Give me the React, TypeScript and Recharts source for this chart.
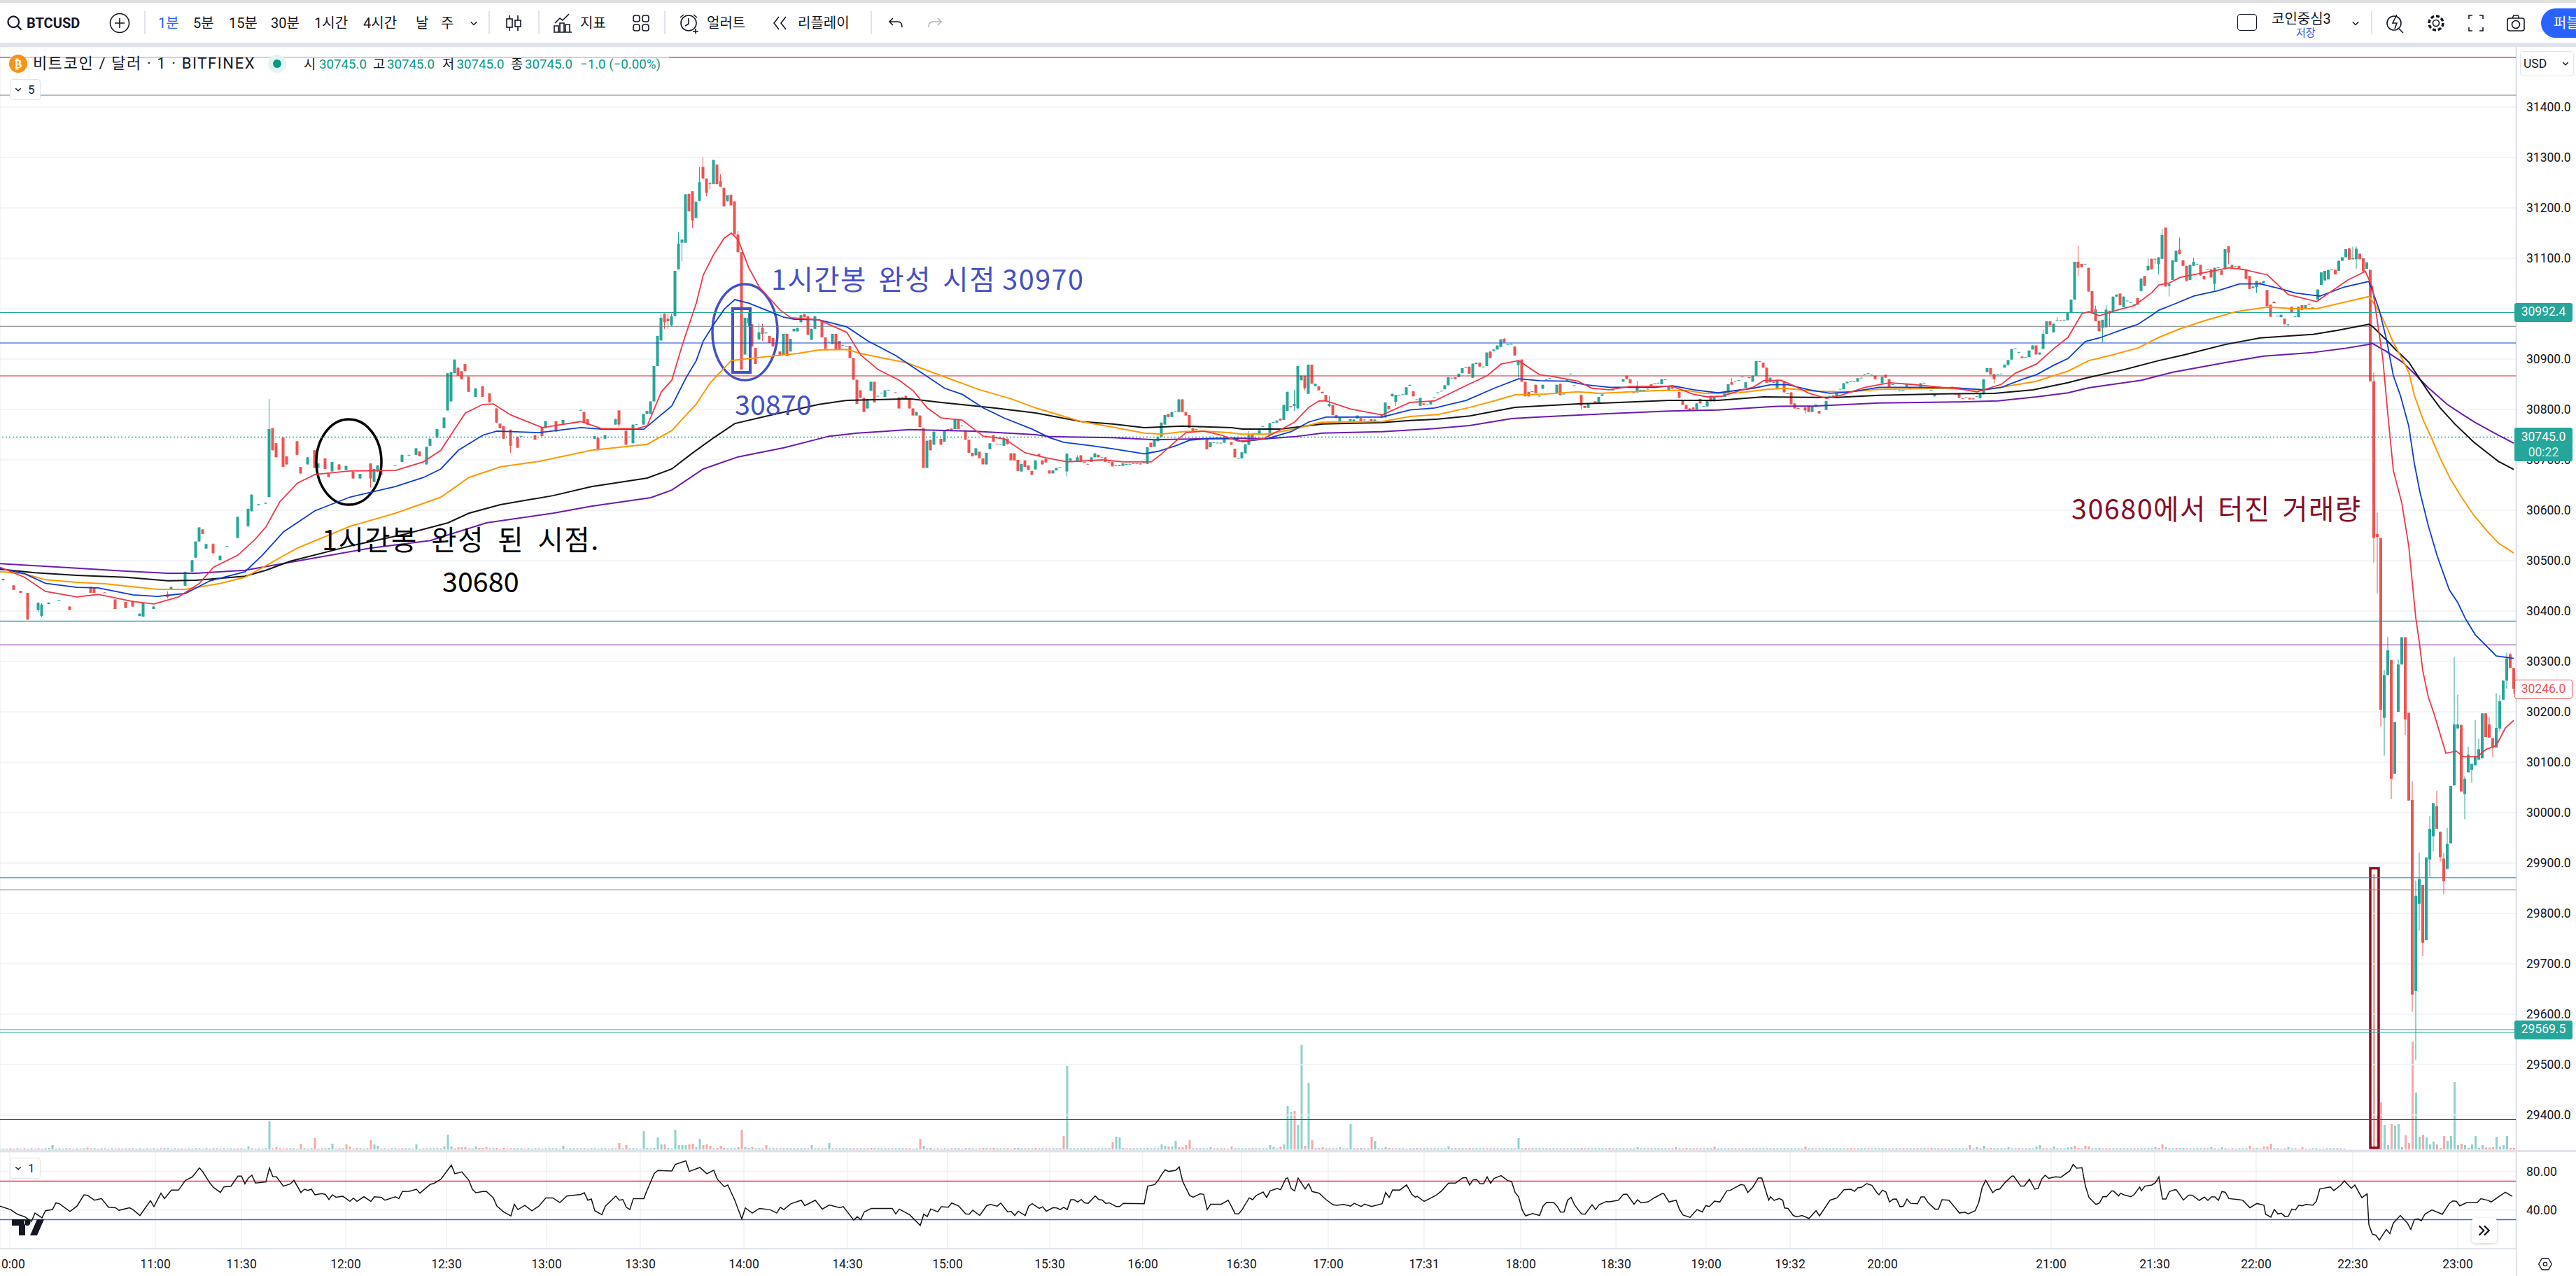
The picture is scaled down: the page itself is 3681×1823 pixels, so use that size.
import React from "react";
import { ComposedChart, Bar, Line, XAxis, YAxis, CartesianGrid, ReferenceLine, ReferenceArea } from "recharts";

const W = 3681, PLOT_TOP = 67, PLOT_BOTTOM = 1643, AXIS_W = 86;
const SLOTS: [number, number] = [0, 719];
const PRICE_DOMAIN: [number, number] = [29330.6, 31519.4];
const GREEN = "#26a69a", RED = "#ef5350";
const FONT = "Roboto, 'Noto Sans CJK KR', sans-serif";
const KR = "'Noto Sans CJK KR', sans-serif";

const PRICE_TICKS = [31400, 31300, 31200, 31100, 31000, 30900, 30800, 30700, 30600, 30500, 30400, 30300, 30200, 30100, 30000, 29900, 29800, 29700, 29600, 29500, 29400];
const RSI_TICKS = [40, 80];
const TIME_SLOTS = [2.8, 44.4, 69, 98.8, 127.6, 156.2, 183, 212.6, 242.2, 270.8, 300, 326.6, 354.8, 379.6, 407, 434.6, 461.8, 487.6, 511.6, 538, 586.2, 615.8, 644.8, 672.4, 702.4];
const TIME_LABELS = ["10:00", "11:00", "11:30", "12:00", "12:30", "13:00", "13:30", "14:00", "14:30", "15:00", "15:30", "16:00", "16:30", "17:00", "17:31", "18:00", "18:30", "19:00", "19:32", "20:00", "21:00", "21:30", "22:00", "22:30", "23:00"];

const LEVELS: [number, string][] = [[31498.6, "#880e4f"], [31423.6, "#787b86"], [30992.4, "#26a69a"], [30965, "#787b86"], [30932, "#0d47c8"], [30866.7, "#c62828"], [30380, "#2196c8"], [30333, "#8e24aa"], [29871, "#2196c8"], [29847, "#787b86"], [29569.5, "#26a69a"], [29564, "#26a69a"], [29391, "#b71c1c"]];
const LAST_PRICE = 30745;

// slot, open, close, high?, low?
const CANDLES: number[][] = [
[1,30461,30464],[4,30451,30442],[6,30440,30436],[8,30436,30383],[11,30402,30416,30418,30398],[12,30390,30413,30416,30388],[14,30414,30417],[17,30421,30422],[20,30409,30402],[26,30448,30436],[27,30446,30436],[30,30437,30436],[33,30423,30404],[36,30418,30406],[38,30420,30409],[40,30390,30395],[41,30389,30416],[44,30404,30409],[48,30433,30428,30439,30425],[49,30444,30448],[53,30450,30478],[55,30478,30501],[56,30506,30538],[57,30538,30566],[58,30562,30553],[59,30524,30533],[61,30533,30515,30535,30512],[63,30501,30510],[65,30528,30529],[68,30545,30587],[71,30568,30603],[72,30598,30631],[74,30610,30612],[76,30613,30615],[77,30626,30761,30821,30626],[78,30763,30719],[79,30733,30705],[81,30744,30686],[82,30707,30691],[85,30737,30710],[86,30686,30673],[88,30691,30705],[90,30719,30684],[91,30684,30693],[93,30703,30682],[94,30675,30666],[95,30677,30696],[97,30691,30680],[99,30680,30688],[101,30677,30663],[103,30663,30672],[106,30693,30663,30693,30645],[107,30656,30682],[108,30677,30689],[109,30679,30670],[113,30688,30689],[115,30696,30710],[117,30709,30710],[119,30710,30723],[120,30717,30707],[122,30691,30726],[123,30728,30742],[125,30744,30761],[127,30763,30784],[128,30798,30872],[129,30816,30874],[130,30872,30899],[131,30883,30867],[132,30876,30860],[133,30890,30876],[134,30865,30835],[136,30825,30842],[138,30846,30825],[140,30832,30814],[142,30802,30774],[143,30772,30763],[144,30767,30742],[146,30760,30728,30760,30714],[148,30746,30724],[149,30746,30747],[153,30749,30740],[155,30765,30747],[156,30763,30777],[159,30777,30756],[161,30772,30779],[166,30798,30799],[167,30795,30774],[168,30781,30770],[170,30742,30747],[171,30744,30719],[173,30742,30749],[176,30770,30781],[177,30798,30770,30798,30765],[179,30758,30730],[181,30733,30770],[182,30770,30771],[184,30770,30791],[185,30791,30797],[186,30791,30816],[187,30816,30886],[188,30886,30946],
[189,30937,30982,30990],[190,30990,30973,30991,30960],[191,30980,30975,30990,30960],[192,30967,30985,30990,30965],[193,30985,31075],[194,31078,31129,31152],[195,31131,31137,31137,31094],[196,31131,31227],[197,31228,31193],[198,31233,31175,31233,31160],[199,31180,31212],[200,31214,31251,31281],[201,31281,31258,31300],[202,31258,31230,31258,31223],[203,31249,31247,31252,31237],[204,31247,31295],[205,31286,31247],[206,31253,31242,31267],[207,31240,31203],[208,31213,31225],[209,31226,31205],[210,31213,31147],[211,31147,31112,31154],[212,31112,30879],[213,30909,30982],[214,30971,30982,30994,30965],[215,30969,30925],[216,30922,30890],[217,30939,30953,30971,30938],[218,30962,30950,30970,30936],[219,30951,30953],[220,30946,30932],[221,30942,30925],[223,30915,30908],[224,30908,30950],[225,30950,30906],[226,30915,30940],[227,30955,30960],[228,30955,30962],[229,30973,30987],[230,30990,30983],[231,30985,30948],[232,30938,30960],[233,30960,30985],[234,30979,30976],[235,30976,30943],[236,30943,30920],[237,30933,30934],[238,30930,30950],[239,30950,30918],[240,30936,30918],[241,30927,30928],[242,30925,30926],[243,30926,30902],[244,30902,30859],[245,30859,30811],[246,30838,30823],[247,30823,30795],[248,30802,30821],[249,30837,30855],[250,30855,30814],[251,30826,30827],[252,30832,30833],[253,30825,30838],[254,30838,30839],[256,30834,30833],[257,30824,30802],[258,30820,30824],[259,30827,30820],[260,30822,30802],[261,30802,30788],[262,30788,30795],[263,30788,30765],[264,30763,30684],[265,30684,30738],[266,30740,30719],[267,30730,30756],[269,30742,30730],[270,30736,30758],[271,30760,30761],[272,30762,30757],[273,30761,30781],[274,30780,30761],[275,30767,30768],[276,30758,30740],[277,30740,30714],[278,30714,30707],[279,30709,30723],[280,30716,30703],[281,30703,30691],[282,30691,30714],[283,30721,30733],[284,30749,30736],[285,30732,30731],[286,30731,30732],[287,30728,30742],[288,30742,30731],[289,30713,30699],[290,30713,30699],[291,30700,30678],[292,30677,30692],[293,30699,30686],[294,30689,30680],[295,30678,30670],[296,30681,30699],[297,30712,30707],[298,30699,30691],[299,30702,30695],[300,30679,30673],[301,30673,30679],[302,30679,30684],[303,30684,30685],[305,30677,30712,30714,30667],
[306,30698,30703],[308,30698,30705,30709],[309,30709,30696],[310,30696,30695],[311,30692,30691],[312,30696,30705],[313,30705,30713],[314,30710,30705],[315,30704,30705],[316,30705,30696],[317,30696,30695],[318,30696,30687],[319,30688,30689],[320,30688,30690],[321,30688,30693],[322,30690,30692],[323,30691,30692],[324,30692,30693],[325,30692,30693],[326,30693,30691],[327,30694,30695],[328,30692,30725],[329,30734,30725],[330,30726,30739],[331,30737,30746],[332,30746,30774],[333,30770,30789],[334,30791,30785],[335,30785,30795],[336,30795,30796],[337,30795,30820],[338,30820,30795],[339,30795,30788],[340,30789,30763],[341,30763,30757],[342,30760,30761],[343,30765,30766],[345,30742,30721],[346,30725,30735],[347,30734,30735],[348,30733,30734],[349,30733,30734],[350,30734,30742],[352,30735,30730],[353,30722,30705],[354,30703,30704],[355,30703,30715],[356,30713,30731],[357,30730,30749,30757],[358,30752,30738],[359,30752,30753],[360,30751,30759],[361,30766,30767],[362,30751,30752],[363,30749,30773],[364,30774,30775],[365,30774,30778],[366,30782,30778],[367,30779,30809],[368,30797,30835],[369,30807,30805],[370,30807,30811,30839,30797],[371,30802,30886],[372,30858,30867],[373,30867,30842,30867,30838],[374,30831,30889],[375,30889,30851],[376,30846,30851],[377,30846,30838],[378,30835,30832],[379,30829,30817],[380,30807,30811,30827,30804],[381,30809,30789],[382,30789,30783],[383,30777,30786],[384,30783,30785],[385,30784,30785],[386,30777,30781],[387,30777,30780],[388,30782,30788],[389,30783,30777],[390,30779,30780],[391,30785,30786],[392,30781,30777],[393,30777,30780],[394,30776,30777],[395,30789,30784],[396,30784,30814],[397,30807,30801],[398,30826,30831],[399,30815,30829,30829,30807],[400,30828,30829],[401,30829,30830],[402,30829,30844],[403,30847,30849],[404,30836,30826],[405,30819,30820],[406,30807,30823],[407,30812,30809],[408,30809,30810],[409,30810,30816],[410,30823,30824],[411,30833,30834],[412,30836,30837],[413,30840,30848],[414,30848,30864],[415,30862,30863],[416,30864,30860],[417,30864,30871],[418,30872,30882],[419,30883,30884],[420,30885,30871],[421,30863,30891],[422,30890,30893],[423,30893,30885],[424,30884,30885],[425,30886,30913],[426,30915,30902],[427,30916,30919],[428,30919,30927],[429,30924,30939],[430,30940,30933,30942],[431,30928,30929],[432,30929,30930],[433,30925,30907],[434,30888,30897,30898,30864],
[435,30899,30855],[436,30855,30826],[437,30835,30826],[438,30835,30836],[439,30849,30832],[440,30826,30827],[441,30841,30849],[442,30859,30860],[443,30861,30862],[445,30832,30849],[446,30851,30828],[447,30830,30831],[448,30856,30860],[449,30870,30871],[450,30847,30848],[452,30829,30808,30829,30800],[453,30807,30803],[454,30803,30812],[455,30833,30834],[456,30816,30812],[457,30812,30825],[458,30827,30830],[461,30838,30840],[464,30855,30860],[465,30867,30860],[466,30860,30852],[467,30835,30833],[468,30834,30847,30857,30833],[469,30838,30839],[470,30838,30839],[471,30840,30841],[472,30850,30843],[473,30852,30851],[474,30852,30853],[475,30850,30860],[476,30859,30860],[477,30839,30845],[478,30846,30841],[479,30844,30847],[480,30835,30823],[481,30817,30809],[482,30809,30801],[483,30802,30798],[484,30804,30800],[485,30800,30812],[486,30821,30812],[487,30806,30807],[488,30806,30817],[489,30827,30816],[490,30816,30825],[491,30827,30825],[493,30825,30835],[494,30832,30850],[495,30854,30849,30862],[496,30856,30857],[497,30857,30858],[498,30864,30865],[499,30843,30854],[500,30864,30862],[501,30855,30867],[502,30867,30896],[503,30895,30896],[504,30893,30883],[505,30883,30853],[506,30854,30863],[507,30855,30853],[508,30840,30859],[509,30841,30842],[510,30856,30834],[511,30831,30832],[512,30834,30810],[513,30812,30802],[514,30803,30801],[516,30804,30798,30805,30792],[517,30807,30795],[518,30795,30807],[519,30805,30810],[520,30797,30792],[521,30807,30808],[522,30799,30817],[523,30826,30827],[524,30825,30828],[525,30826,30833],[526,30840,30841],[527,30840,30852],[528,30852,30855],[529,30855,30856],[530,30855,30856],[531,30855,30862],[532,30862,30863],[533,30869,30870],[534,30871,30872],[535,30868,30869],[536,30867,30860],[538,30852,30865],[539,30869,30863],[540,30860,30844],[541,30849,30850],[543,30837,30838],[544,30838,30839],[545,30845,30850],[546,30842,30843],[549,30842,30852],[550,30852,30853],[552,30838,30839],[553,30826,30831],[555,30843,30844],[558,30845,30842],[559,30831,30830],[560,30831,30823],[561,30822,30821],[562,30823,30824],[563,30823,30820],[564,30822,30820],[565,30825,30826],[566,30822,30832],[567,30830,30860],[568,30874,30882],[569,30882,30869],[570,30870,30860,30870,30851],[571,30869,30870],[572,30870,30871],[573,30883,30889],[574,30888,30898],[575,30899,30920],[576,30920,30921],[577,30913,30914],[578,30905,30902],[579,30903,30904],[580,30904,30917],[581,30919,30927],[582,30927,30909],[583,30909,30913],[584,30920,30950,30958],[585,30950,30975],[586,30975,30967],[587,30953,30970],[588,30976,30977,30983],[589,30977,30976],[590,30977,30978],[591,30977,30992],[592,30992,31018],[593,31018,31093],[594,31093,31081,31125,31064],[595,31089,31082],[596,31088,31089],[597,31081,31034],[598,31035,30992],[599,30999,30975,31006],[600,30976,30955],[601,30962,30978,30978,30933],[602,30963,30998,31007],[603,30996,30990,30996,30964],[604,30994,31024],[605,31024,31028],[606,31030,31007],[607,31003,31024],[608,31015,31016],[609,31012,31013],[610,31008,31009],[611,31021,31008],[612,31035,31060],[613,31065,31045],[614,31076,31085,31099],[615,31099,31078],[616,31099,31098,31099,31089],[617,31088,31102,31102,31068],[618,31099,31146,31158],[619,31161,31044],[620,31045,31049,31049,31024],[621,31057,31096],[622,31093,31115],[623,31117,31108,31141],[624,31096,31085],[625,31085,31055],[626,31057,31087],[627,31085,31093,31101],[628,31088,31089],[629,31087,31066],[630,31065,31058],[631,31078,31079],[632,31078,31062],[633,31049,31081,31081,31036],[634,31081,31082],[635,31076,31067],[636,31078,31118],[637,31124,31111,31124,31088],[638,31087,31081],[639,31083,31084],[640,31085,31079],[641,31078,31077],[642,31078,31059],[643,31065,31039],[644,31041,31044],[645,31043,31055,31055,31031],[646,31052,31049],[647,31050,31055],[648,31037,31005],[649,31008,30984],[650,31014,31011],[651,30985,30986],[652,30983,30988],[653,30980,30969],[654,30968,30969,30969,30963],[655,31004,30992],[656,30984,30985],[657,30983,31004],[658,31007,30997],[659,31001,31007],[660,31010,31008],[661,31002,31003],
[662.5,31018,31038],[663.5,31047,31072],[664.5,31056,31075],[665.5,31058,31077],[666.5,31077,31078],[667.5,31077,31068],[668.5,31075,31095],[669.5,31095,31102],[670.5,31102,31118],[671.5,31120,31097],[672.5,31098,31100,31123,31098],[673.5,31098,31119,31124,31079],[674.5,31109,31098],[675.5,31100,31074],[676.5,31079,31092],[677.5,31077,30856],[678.5,30856,30545,30873,30496],[679.5,30553,30547,30595,30435],[680.5,30545,30204,30545,30170],[681.5,30188,30273,30283,30113],[682.5,30273,30322,30349,30273],[683.5,30303,30067,30303,30027],[684.5,30077,30180],[685.5,30200,30294,30304,30200],[686.5,30294,30348],[687.5,30348,30185,30348,30154],[688.5,30198,30024],[689.5,30025,29639,30062,29605],[690.5,29646,29835,29865,29509],[691.5,29819,29868,29921,29766],[692.5,29857,29742,29857,29715],[693.5,29747,29911],[694.5,29907,29968,29993,29872],[695.5,29953,30019,30019,29923],[696.5,30013,29968,30043,29968],[697.5,29962,29912,29962,29903],[698.5,29909,29864,29920,29838],[699.5,29888,29938,29970,29888],[700.5,29939,30053],[701.5,30054,30175,30309,30054],[702.5,30167,30175,30234,30167],[703.5,30174,30042],[704.5,30037,30067,30072,29987],[705.5,30080,30115,30131,30080],[706.5,30085,30097,30097,30059],[707.5,30094,30112,30184,30094],[708.5,30105,30126,30147,30105],[709.5,30108,30197],[710.5,30197,30150],[711.5,30175,30149,30189,30149],[712.5,30148,30129,30148,30110],[713.5,30129,30168,30237,30129],[714.5,30167,30221,30233,30161],[715.5,30224,30262],[716.5,30262,30306,30318,30246],[717.5,30314,30287,30317,30287],[718.5,30287,30246,30287,30236]];

const EMA_RED: number[][] = [[0,30487],[7,30467],[13,30439],[22,30428],[28,30433],[38,30419],[44,30414],[51,30428],[57,30455],[61,30487],[68,30511],[73,30543],[76,30567],[80,30617],[85,30654],[90,30671],[100,30678],[113,30679],[121,30696],[126,30719],[129,30751],[133,30793],[138,30810],[141,30811],[146,30789],[155,30764],[166,30776],[172,30762],[182,30762],[185,30768],[189,30835],[192,30858],[195,30928],[199,31011],[201,31067],[204,31108],[207,31140],[209,31150],[211,31136],[214,31081],[217,31043],[223,30997],[226,30982],[234,30978],[242,30953],[246,30908],[251,30879],[257,30858],[261,30837],[265,30803],[269,30783],[275,30779],[281,30747],[287,30742],[293,30714],[299,30704],[305,30696],[315,30700],[321,30696],[329,30696],[332,30712],[336,30737],[339,30754],[344,30757],[349,30749],[354,30737],[361,30742],[365,30756],[370,30775],[374,30804],[377,30817],[379,30817],[386,30801],[395,30789],[403,30814],[410,30817],[418,30844],[425,30867],[429,30890],[434,30897],[440,30869],[444,30865],[448,30860],[451,30856],[455,30842],[460,30839],[466,30846],[473,30846],[478,30846],[484,30830],[488,30825],[492,30826],[498,30839],[501,30844],[504,30857],[509,30858],[513,30846],[517,30832],[522,30822],[526,30828],[533,30844],[540,30853],[546,30850],[555,30844],[559,30842],[565,30835],[572,30850],[576,30872],[582,30890],[587,30921],[591,30943],[595,30990],[597,30994],[600,30986],[605,30997],[610,31006],[615,31032],[617,31047],[620,31051],[623,31062],[628,31069],[637,31081],[641,31078],[648,31067],[654,31028],[662,31014],[671,31057],[676,31074],[678,31043],[681,30900],[682.4,30792],[684,30679],[686.4,30615],[688.4,30529],[690.4,30387],[691.4,30339],[692.4,30282],[694,30229],[695.6,30197],[699,30118],[702,30122],[704,30111],[708,30111],[710.6,30126],[713.4,30133],[716,30168],[718.4,30183]];
const EMA_BLUE: number[][] = [[0,30485],[7,30474],[13,30455],[22,30447],[28,30446],[38,30432],[45,30429],[53,30435],[60,30460],[70,30478],[75,30511],[81,30557],[90,30599],[100,30626],[113,30647],[121,30665],[126,30682],[131,30719],[138,30749],[142,30757],[154,30754],[166,30764],[172,30761],[184,30761],[192,30807],[196,30862],[199,30897],[201,30936],[204,30969],[207,30999],[210,31018],[214,31011],[219,30997],[224,30983],[227,30979],[234,30978],[242,30964],[248,30936],[256,30907],[262,30879],[270,30842],[275,30830],[281,30803],[287,30783],[295,30761],[300,30744],[304,30735],[312,30728],[318,30722],[327,30712],[331,30717],[336,30728],[340,30739],[345,30742],[353,30742],[355,30736],[362,30742],[369,30756],[374,30775],[379,30785],[395,30785],[403,30799],[410,30803],[419,30818],[427,30842],[434,30861],[440,30857],[448,30856],[453,30849],[460,30844],[473,30844],[478,30847],[484,30839],[491,30833],[501,30842],[506,30849],[511,30849],[517,30839],[523,30832],[529,30835],[537,30844],[548,30844],[559,30843],[567,30839],[572,30844],[578,30860],[582,30869],[587,30888],[591,30901],[596,30935],[600,30942],[606,30957],[611,30969],[615,30987],[617,30997],[621,31008],[627,31025],[634,31036],[640,31049],[646,31049],[652,31039],[656,31031],[663,31025],[670,31043],[677,31054],[678,31036],[680,30997],[682,30940],[684,30867],[686,30828],[688.4,30767],[690,30693],[691.6,30636],[694,30569],[696.6,30508],[700,30442],[702.4,30417],[704.6,30385],[707.4,30353],[710,30335],[713.4,30311],[718.4,30306]];
const EMA_ORANGE: number[][] = [[0,30478],[7,30474],[13,30462],[22,30457],[30,30454],[45,30443],[53,30443],[63,30455],[70,30467],[76,30490],[85,30525],[100,30568],[113,30594],[126,30626],[134,30665],[143,30686],[154,30697],[169,30719],[185,30731],[192,30758],[199,30811],[203,30853],[209,30897],[214,30901],[222,30907],[228,30911],[234,30918],[242,30919],[246,30911],[253,30901],[259,30893],[269,30867],[280,30839],[289,30821],[296,30803],[309,30776],[318,30765],[327,30753],[332,30751],[338,30756],[344,30757],[351,30754],[355,30751],[362,30751],[370,30761],[377,30774],[380,30775],[395,30776],[403,30786],[411,30790],[420,30804],[427,30817],[433,30829],[440,30830],[451,30835],[457,30832],[466,30835],[475,30838],[482,30838],[487,30832],[497,30833],[505,30840],[510,30842],[519,30836],[528,30835],[537,30840],[555,30842],[567,30839],[572,30844],[582,30856],[591,30876],[597,30897],[603,30907],[611,30922],[617,30943],[623,30960],[630,30976],[639,30994],[648,31003],[656,31000],[662,31000],[669,31011],[677,31024],[678,31015],[680,30994],[682,30965],[684,30933],[686.6,30899],[688.4,30874],[690,30828],[692.6,30778],[695,30742],[697.4,30703],[700.4,30661],[703.6,30625],[707,30590],[711.4,30554],[714,30535],[718.4,30515]];
const EMA_BLACK: number[][] = [[0,30483],[10,30476],[22,30471],[36,30467],[48,30460],[56,30461],[70,30469],[76,30481],[83,30499],[100,30529],[116,30553],[128,30575],[134,30594],[143,30611],[158,30629],[169,30647],[185,30664],[192,30682],[198,30714],[204,30744],[210,30772],[221,30790],[234,30810],[242,30818],[260,30821],[269,30814],[284,30803],[296,30793],[309,30776],[318,30771],[327,30764],[338,30767],[352,30764],[355,30761],[366,30761],[378,30771],[395,30774],[403,30778],[411,30781],[420,30787],[433,30804],[440,30807],[451,30811],[459,30813],[477,30818],[491,30818],[504,30825],[519,30824],[525,30824],[537,30828],[555,30831],[570,30832],[581,30839],[591,30853],[596,30862],[607,30879],[617,30897],[624,30908],[636,30929],[646,30942],[661,30949],[668,30957],[677,30969],[678,30965],[682,30938],[684.6,30919],[688.4,30894],[691.4,30862],[694.4,30831],[697.4,30803],[701.6,30771],[707,30735],[714,30697],[718.4,30681]];
const EMA_PURPLE: number[][] = [[0,30494],[22,30485],[36,30479],[48,30475],[56,30475],[70,30481],[83,30497],[106,30525],[123,30540],[139,30575],[158,30594],[169,30608],[186,30625],[192,30640],[201,30682],[211,30706],[224,30724],[237,30747],[245,30753],[260,30760],[278,30757],[296,30750],[300,30746],[318,30744],[330,30740],[352,30743],[362,30742],[370,30746],[378,30753],[395,30756],[410,30762],[420,30768],[432,30782],[440,30785],[448,30788],[477,30797],[491,30799],[507,30806],[519,30807],[537,30813],[560,30815],[571,30817],[582,30825],[591,30833],[597,30843],[605,30851],[612,30858],[621,30874],[636,30893],[647,30906],[661,30913],[670,30921],[677,30929],[678,30931],[682,30915],[686.6,30894],[690.6,30867],[694,30843],[699.4,30810],[704,30789],[707.4,30774],[714,30749],[718.4,30733]];

// tiny volume of each slot up to the crash: negative prints red
const VOLUME_BASE: number[] = [
5,4,-4,-5,-4,5,-4,-5,4,5,-4,-5,4,5,6,5,4,5,-4,5,-5,4,5,-4,5,-4,-5,5,4,5,-5,4,5,-4,-5,4,5,-5,5,4,
5,4,5,-4,5,4,-5,5,5,4,5,4,-5,4,5,4,5,5,-4,5,4,-5,5,4,5,-4,5,4,-5,5,4,5,5,-4,5,4,5,-6,-5,-6,
-5,-4,-5,5,5,-4,-5,5,4,5,5,-4,-5,5,6,5,-4,-5,5,-6,-5,-4,-5,5,4,-5,-6,5,5,-4,5,-4,5,5,-4,-5,5,5,
4,5,-4,5,-5,5,5,5,5,5,5,-6,-5,-6,-5,-6,-5,5,5,-6,-6,5,-5,5,-6,-4,-5,-4,-5,5,5,5,-4,5,4,5,5,-4,
5,5,5,5,-4,5,4,5,5,5,-5,5,4,5,5,4,5,5,-4,5,5,4,5,-4,5,5,5,4,-5,5,5,-5,5,5,5,5,5,5,-5,-5,
5,5,5,5,5,5,-5,5,5,5,5,-6,5,5,5,-5,-5,-6,5,5,5,5,-5,-5,5,5,5,-5,5,5,5,5,5,5,5,-5,-5,5,5,-5,
5,5,5,-5,5,5,5,5,-5,-5,5,5,-5,-6,5,5,5,5,5,-5,5,5,5,-5,-5,-4,5,5,-4,-5,5,-4,-5,-4,5,-4,-5,5,5,-4,
-5,5,5,-4,-5,-6,5,-5,-6,-5,5,5,-5,-4,-5,5,5,-5,5,5,-6,-5,5,-5,-5,5,5,-5,-5,-5,5,5,5,5,5,5,-5,5,
5,5,5,5,-6,5,5,5,-5,-5,5,5,5,5,-5,5,5,5,5,5,-5,-5,5,5,5,5,5,-5,5,5,5,5,-5,-5,5,-5,-5,-4,5,5,
5,5,5,-5,5,-5,5,5,5,5,-5,5,5,-5,5,5,5,-4,5,5,5,-6,5,-6,5,5,-5,5,-5,5,5,5,-5,5,-5,5,-5,5,5,-5,
5,5,6,-5,-5,-5,5,5,-4,5,5,-6,-5,5,5,-5,5,5,5,5,5,5,-6,5,5,5,5,5,5,5,5,-5,-5,5,-5,5,5,5,5,5,
5,5,5,-5,5,5,5,5,-5,5,5,5,-5,5,-5,5,5,5,5,5,-5,5,5,5,5,5,-6,5,5,5,5,-5,5,5,5,5,5,-5,5,5,
5,5,5,5,-5,5,5,-5,5,5,-5,-5,5,-5,5,5,-5,5,5,5,5,-5,5,-5,-5,5,-5,5,5,5,5,5,-5,5,5,5,5,5,5,5,
5,5,-5,5,5,-5,5,5,5,5,5,5,5,5,-5,-6,-5,5,5,5,-5,5,5,5,5,5,-5,5,5,-5,5,-5,5,5,-5,5,5,-5,-6,5,
5,-5,-5,5,5,5,5,5,5,5,5,5,-5,-5,-5,5,5,5,5,5,5,5,5,-6,-5,5,5,5,-5,5,-5,-5,5,-5,5,5,5,5,5,5,
5,5,5,5,5,5,5,-5,-5,-5,5,5,5,5,5,5,-5,5,5,5,5,5,5,-6,5,-6,5,5,-5,5,5,-5,5,5,5,5,-5,5,-5,5,
-4,5,5,-4,-5,-4,5,5,5,-4,-5,5,-4,5,-5,5,5,5,-4,-5,5,5,-5,-4,5,-4,-4,5,5,-4,-4,5,5,5,-5,5,-4];
const VOLUME_PEAKS: number[][] = [[15,14],[25,-7],[71,10],[77,82],[79,-8],[86,-18],[90,-34],[95,18],[99,-16],[100,-10],[102,-6],[106,-28],[107,16],[108,12],[119,16],[127,10],[128,44],[129,10],[131,-8],[132,-8],[133,-8],[136,10],[139,-8],[144,-6],[161,12],[177,-20],[179,-14],[184,54],[185,6],[187,6],[188,36],[189,16],[190,-16],[191,6],[193,58],[194,14],[195,14],[196,14],[197,-16],[198,-18],[199,8],[200,32],[201,-14],[202,-16],[203,-12],[205,-6],[206,-12],[211,-8],[212,-58],[213,8],[214,6],[215,-8],[219,-14],[232,14],[237,20],[263,-32],[264,12],[266,6],[276,-6],[290,-6],[291,6],[304,-40],[305,240],[318,-22],[319,38],[320,36],[321,6],[328,6],[332,16],[333,12],[334,-10],[335,10],[336,26],[337,-8],[338,-8],[339,-14],[340,-28],[346,8],[352,-10],[363,14],[364,8],[366,-10],[367,16],[368,126],[369,108],[370,-112],[371,72],[372,300],[373,-12],[374,192],[375,-28],[378,-8],[383,8],[386,74],[389,6],[392,-38],[393,26],[396,8],[397,-6],[414,10],[420,-6],[434,34],[436,-6],[452,-6],[468,8],[479,-8],[482,-6],[490,-10],[516,-10],[563,-14],[565,8],[567,12],[569,-6],[574,8],[582,10],[583,14],[587,10],[591,7],[592,8],[593,-12],[594,-6],[596,-12],[597,-10],[600,6],[616,8],[618,-16],[619,8],[622,-6],[623,6],[624,6],[632,8],[635,8],[643,-12],[645,6],[647,-10],[648,-10],[649,-18],[654,8],[658,-8]];
const VOLUME_CRASH: number[][] = [[677.5,-40],[678.5,-788],[679.5,-98],[680.5,-136],[681.5,72],[682.5,14],[683.5,-74],[684.5,70],[685.5,74],[686.5,8],[687.5,-42],[688.5,-20],[689.5,-310],[690.5,164],[691.5,38],[692.5,-44],[693.5,36],[694.5,16],[695.5,24],[696.5,-16],[697.5,-6],[698.5,-40],[699.5,26],[700.5,40],[701.5,194],[702.5,14],[703.5,-18],[704.5,14],[705.5,6],[706.5,16],[707.5,40],[708.5,6],[709.5,14],[710.5,-7],[711.5,-7],[712.5,-8],[713.5,38],[714.5,10],[715.5,14],[716.5,40],[717.5,-6],[718.5,-6]];

const RSI: number[][] = [[0,44],[3,40.5],[5,35.6],[7,33.2],[9,28.4],[10,36.9],[12,32],[13,39.3],[15,40.5],[16,47.5],[17,46.5],[20,38.5],[22,44.1],[24,55.8],[25,55.3],[27,50.2],[29,51.9],[31,42.9],[33,42.4],[34,39.8],[37,42.4],[38,40.5],[40,34.4],[43,49.7],[44,43.6],[46,57.5],[47,51.9],[49,60.6],[51,60.6],[53,70.8],[55,74.4],[57,83.6],[58,79.3],[60,67.9],[61,63.5],[63,58.2],[64,64],[66,64.7],[68,75.2],[69,75.2],[70,67.1],[71,73.2],[72,76.1],[73,67.9],[76,69.1],[77,83.6],[78,74.4],[79,74.4],[81,64.7],[83,67.1],[84,70.8],[86,58.2],[87,61.6],[88,60.4],[89,61.6],[90,55.8],[92,57],[93,56.2],[94,50.9],[95,55.8],[96,53.3],[98,54.3],[100,49],[101,52.4],[102,49],[104,53.8],[106,49],[107,53.8],[109,53.1],[110,50.2],[113,53.8],[114,51.9],[115,59.2],[117,59.4],[119,61.6],[120,57.5],[123,66.7],[124,67.6],[126,72],[128,81.7],[129,86.5],[130,77.6],[132,79.5],[134,70.8],[135,61.6],[136,58],[138,59.2],[139,59.2],[141,52.6],[142,44.1],[144,38],[146,34],[147,46],[148,40.5],[150,44.8],[152,39.3],[154,44.1],[156,52.6],[158,52.6],[160,47.8],[162,54.5],[166,56.2],[167,58],[168,50.2],[169,51.4],[170,39.3],[172,35.2],[173,44.1],[176,54.5],[177,50.2],[178,50.9],[179,42.9],[180,40.5],[181,51.9],[184,51.9],[185,61.1],[187,78],[188,81],[192,80.5],[193,87.3],[196,90.9],[197,80],[200,84.1],[202,77.6],[204,81.2],[205,72],[207,64.2],[208,65.9],[210,50.2],[212,30.8],[213,42.2],[215,36.9],[217,41.7],[220,40.5],[222,36.9],[223,42.9],[224,40.5],[226,46.5],[229,50.2],[230,44.6],[233,50.2],[235,41],[237,45.3],[240,42.4],[241,43.6],[244,29.6],[245,33.2],[246,30],[247,38],[249,41.7],[252,41.7],[255,41.7],[256,36],[257,41],[260,35],
[263,24],[264,35.7],[265,33.2],[266,41.2],[268,38.1],[269,43.4],[271,42.9],[272,47.3],[274,44.1],[276,36.1],[277,35.7],[278,39.8],[280,34.4],[282,44.6],[283,45.8],[285,44.1],[286,47.3],[288,38.1],[289,38.6],[290,34.4],[291,38.8],[293,34.4],[294,44.1],[295,46.6],[297,41.7],[298,43.4],[299,38.8],[301,42.5],[302,42.2],[303,40.5],[304,42.9],[305,40.5],[306,50.7],[307,50.7],[308,48.3],[309,50.9],[310,47.5],[311,47],[313,54.6],[314,50.9],[315,50.4],[316,47],[317,47.5],[319,43.7],[320,43.7],[321,47],[327,46.6],[328,64.8],[330,66.4],[331,70.8],[332,76.9],[333,81.7],[334,80],[336,81.2],[337,84.6],[338,69.6],[339,62.3],[340,55],[341,53.4],[343,56.8],[344,56.3],[345,40.5],[346,46.1],[349,46.1],[351,50.2],[352,43.4],[353,36.1],[354,36.1],[355,40.5],[357,52.6],[358,50.7],[359,55],[361,58.7],[362,53.1],[363,59.9],[365,62.3],[366,61.1],[367.5,72.8],[368,73.2],[369,62.3],[370,59.9],[371,73.2],[373,61.8],[374,67.2],[375,59.2],[377,57.5],[379,50.7],[381,45.4],[382,44.9],[384,45.8],[386,44.1],[387,47],[389,43.7],[390,46.1],[392,43.7],[395,46.6],[396,58.2],[397,53.1],[398,60.9],[400,60.6],[402,66],[403.5,56.3],[404.5,53.4],[405,54.3],[407,49],[409,52.6],[410.5,55.5],[412,59.9],[414,67.9],[416,67.9],[418,73.2],[419,73.7],[420,66],[421,71.3],[422,71.5],[423,67.2],[424,67.2],[425,74.4],[426,67.7],[427,72.8],[429,75.7],[431,70.3],[432,69.6],[433,58.2],[434,53.8],[435,40.5],[436,34],[438,36.4],[440,34.4],[441,44.1],[442,48],[444,47.8],[445,44.1],[446,37.8],[447,38],[448,50.2],[449,53.1],[450,45.4],[451,40.5],[452,36.1],[453,35.7],[455,45.4],[456,40.5],[457,45.4],[459,48.8],
[460,48.5],[462.5,50.2],[464,56.3],[465,56.3],[467,46.1],[468,50.7],[469,47.5],[471,48.5],[473,53.1],[475,57],[475.5,57],[477,48.3],[479,50.2],[480,40.5],[481,34.9],[483,32.5],[485,40.5],[486.5,38.1],[487.5,44.6],[488.5,43.7],[490,49.2],[491.5,48.3],[493.5,59.9],[494.5,60.4],[496,63.5],[497.5,66.4],[498.5,65.7],[499.5,58.2],[501,64],[502.5,73.2],[503.5,73.2],[505.5,50.2],[506,53.8],[507,50],[508.5,51.9],[509.5,50.2],[510,42.2],[511,41.7],[512.5,34.4],[513.5,33],[515,34.4],[517,31.3],[519,39.3],[520,34],[523,50.2],[525,52.6],[527,61.1],[529,61.6],[530,59.4],[531,63.3],[532,63.5],[533.5,67.4],[535,65.5],[536.5,57.5],[537,55.8],[538,60.6],[539,58.7],[540,48.3],[541,51.2],[542,51.4],[543,43.4],[544,44.1],[545,51.4],[546,47],[548,46.6],[549,53.6],[550,53.6],[551,47.8],[553,41],[554,41],[555,50.7],[557,50.2],[560,36.9],[561.5,37.8],[562.5,36.1],[564.5,39.3],[565.5,47.8],[566.5,63.5],[567.5,70.8],[569.5,58],[570.5,61.1],[571.5,61.8],[573,68.4],[575,75.2],[575.5,75.2],[577.5,64.8],[578.5,64.8],[580,71.8],[581.5,61.6],[582.5,62.6],[583.5,72],[584.5,76.1],[585.5,72.8],[587.5,74.4],[589,74],[591.5,80.5],[592.5,87.3],[593.5,83.4],[595,83.9],[596,64.8],[597,53.1],[599,45.8],[600,47.3],[601,53.8],[602,53.8],[603.5,59.7],[604,59.7],[605.5,54.6],[606,57.5],[607,55.8],[609,53.8],[610,56.3],[611.5,64],[612,59.9],[613,64.8],[615,66],[616,68.4],[617,74.4],[618,51.4],[619,51.4],[620,59.2],[621.5,61.1],[622,60.9],[624,50.4],[625.5,55.5],[626.5,55.5],[628.5,50],[630,53.4],[631,50],[632,53.6],[633,53.6],[634,50],[635,59.2],[636,58.4],[637,51.9],[640,50.8],
[641,50.1],[643,42.4],[645,46.8],[647,45.1],[647.5,35.7],[649,32.7],[650,40.7],[651,36],[652,36.7],[653,33.4],[654,33.7],[655,41.1],[656,40.1],[657,45.1],[658,44.4],[659,45.8],[661,45.1],[662,49.1],[663,61.9],[666,63.9],[667,60.2],[669,65.9],[670,70.2],[672,62.5],[673,65.9],[675,52.8],[676.5,56.8],[677,25],[678,15],[679,14],[680,8.9],[682,20],[683,15.6],[684,26.7],[686,34.4],[688,26.7],[689,20],[690,30],[691,31],[692,29],[693,35.7],[695,40.1],[698,35.7],[700,46.8],[701,49.5],[702,49.1],[703,44.4],[705,47.8],[708,47.8],[709,51.8],[711,50.1],[712,48.4],[714,53.5],[716,58.5],[718,54.2]];

// ---- tables built from the arrays above ----
const candleTable = CANDLES.map(([slot, open, close, h, l]) => ({ slot, open, close, high: h ?? Math.max(open, close), low: l ?? Math.min(open, close) }));

const emaMap = new Map<number, any>();
([["red", EMA_RED], ["blue", EMA_BLUE], ["orange", EMA_ORANGE], ["black", EMA_BLACK], ["purple", EMA_PURPLE]] as [string, number[][]][]).forEach(([k, arr]) =>
  arr.forEach(([s, v]) => { if (!emaMap.has(s)) emaMap.set(s, { slot: s }); emaMap.get(s)[k] = v; }));
const emaTable = [...emaMap.values()].sort((a, b) => a.slot - b.slot);

const peakMap = new Map<number, number>(VOLUME_PEAKS.map(([s, v]) => [s, v] as [number, number]));
const volTable = [...VOLUME_BASE.map((v, i) => [i, peakMap.get(i) ?? v]), ...VOLUME_CRASH].map(([slot, v]) => ({ slot, vol: Math.abs(v), up: v > 0 }));
const rsiTable = RSI.map(([slot, rsi]) => ({ slot, rsi }));

const priceToY = (p: number) => PLOT_TOP + ((PRICE_DOMAIN[1] - p) / (PRICE_DOMAIN[1] - PRICE_DOMAIN[0])) * (PLOT_BOTTOM - PLOT_TOP);

const Candle = (props: any) => {
  const { x, y, width, height, payload } = props;
  if (!payload || payload.open == null || !isFinite(y) || !isFinite(height)) return null;
  const k = height / (payload.high - payload.low);
  const cx = x + width / 2;
  const top = y + (payload.high - Math.max(payload.open, payload.close)) * k;
  const bodyH = Math.max(1, Math.abs(payload.open - payload.close) * k);
  const col = payload.close >= payload.open ? GREEN : RED;
  return (
    <g>
      <line x1={cx} x2={cx} y1={y} y2={y + height} stroke={col} strokeWidth={1} />
      <rect x={x} y={top} width={width} height={bodyH} fill={col} />
    </g>
  );
};
const VolBar = (props: any) => {
  const { x, y, width, height, payload } = props;
  if (!payload || !isFinite(height)) return null;
  return <rect x={x} y={y} width={width} height={height} fill={payload.up ? GREEN : RED} fillOpacity={0.5} />;
};
const EllipseShape = (stroke: string) => (p: any) => (
  <ellipse cx={p.x + p.width / 2} cy={p.y + p.height / 2} rx={p.width / 2} ry={p.height / 2} fill="none" stroke={stroke} strokeWidth={3.5} />
);
const RectShape = (stroke: string, w: number) => (p: any) => (
  <rect x={p.x} y={p.y} width={p.width} height={p.height} fill="none" stroke={stroke} strokeWidth={w} />
);

const Txt = ({ x, y, size = 20, color = "#131722", weight = 400, font = FONT, children, spacing, word }: any) => (
  <div style={{ position: "absolute", left: x, top: y, transform: "translateY(-50%)", fontSize: size, color, fontWeight: weight, fontFamily: font, whiteSpace: "nowrap", lineHeight: 1, letterSpacing: spacing, wordSpacing: word }}>{children}</div>
);
const Sep = ({ x }: { x: number }) => <div style={{ position: "absolute", left: x, top: 16, width: 1.5, height: 33, background: "#e0e3eb" }} />;
const Icon = ({ x, y, w = 30, h = 30, children }: any) => (
  <svg style={{ position: "absolute", left: x - w / 2, top: y - h / 2 }} width={w} height={h} viewBox="0 0 30 30" fill="none" stroke="#131722" strokeWidth={1.6}>{children}</svg>
);
const Tag = ({ p, h = 27, bg = GREEN, color = "#fff", border, children }: any) => (
  <div style={{ position: "absolute", left: 3593, width: 83, top: priceToY(p) - 13, height: h, background: bg, color, border: border ? `1.5px solid ${border}` : undefined, boxSizing: "border-box", borderRadius: 3, fontFamily: FONT, fontSize: 17.5, textAlign: "center", lineHeight: "25px" }}>{children}</div>
);

const layer: React.CSSProperties = { position: "absolute", left: 0, top: PLOT_TOP };
const noMargin = { top: 0, right: 0, bottom: 0, left: 0 };

export default function App() {
  const tickStyle = { fontSize: 17.5, fontFamily: "Roboto, sans-serif", fill: "#131722" };
  const timeLabel = (v: number) => TIME_LABELS[TIME_SLOTS.indexOf(v)] ?? "";
  const hiddenX = <XAxis dataKey="slot" type="number" domain={SLOTS} ticks={TIME_SLOTS} tick={false} axisLine={false} tickLine={false} height={0} />;
  return (
    <div style={{ position: "absolute", left: 0, top: 0, width: W, height: 1823, overflow: "hidden", background: "#fff" }}>
      {/* volume layer */}
      <div style={layer}>
        <ComposedChart width={W} height={PLOT_BOTTOM - PLOT_TOP} data={volTable} margin={noMargin}>
          {hiddenX}
          <YAxis orientation="right" width={AXIS_W} domain={[0, 3152]} tick={false} axisLine={false} tickLine={false} />
          <Bar dataKey="vol" barSize={3} isAnimationActive={false} shape={VolBar} />
        </ComposedChart>
      </div>
      {/* candle layer with grid and price axis */}
      <div style={layer}>
        <ComposedChart width={W} height={PLOT_BOTTOM - PLOT_TOP} data={candleTable} margin={noMargin}>
          <CartesianGrid stroke="#eff1f5" strokeWidth={1.5} />
          {hiddenX}
          <YAxis orientation="right" width={AXIS_W} domain={PRICE_DOMAIN} ticks={PRICE_TICKS} tick={tickStyle} tickMargin={9} tickFormatter={(v: number) => v.toFixed(1)} axisLine={false} tickLine={false} interval={0} />
          <Bar dataKey={(d: any) => [d.low, d.high]} barSize={4} isAnimationActive={false} shape={Candle} />
        </ComposedChart>
      </div>
      {/* moving averages, price levels, drawings */}
      <div style={layer}>
        <ComposedChart width={W} height={PLOT_BOTTOM - PLOT_TOP} data={emaTable} margin={noMargin}>
          {hiddenX}
          <YAxis orientation="right" width={AXIS_W} domain={PRICE_DOMAIN} ticks={PRICE_TICKS} tick={false} axisLine={false} tickLine={false} />
          {LEVELS.map(([v, c]) => <ReferenceLine key={v} y={v} stroke={c} strokeWidth={1.1} />)}
          <ReferenceLine y={LAST_PRICE} stroke={GREEN} strokeWidth={1.5} strokeDasharray="2 3" />
          <Line dataKey="purple" stroke="#6a1bb0" strokeWidth={2} dot={false} connectNulls isAnimationActive={false} />
          <Line dataKey="black" stroke="#131313" strokeWidth={2} dot={false} connectNulls isAnimationActive={false} />
          <Line dataKey="orange" stroke="#ff9800" strokeWidth={2} dot={false} connectNulls isAnimationActive={false} />
          <Line dataKey="blue" stroke="#0c3cd6" strokeWidth={1.8} dot={false} connectNulls isAnimationActive={false} />
          <Line dataKey="red" stroke="#f23645" strokeWidth={1.8} dot={false} connectNulls isAnimationActive={false} />
          <ReferenceArea x1={90.4} x2={109} y1={30611} y2={30780.6} shape={EllipseShape("#000")} />
          <ReferenceArea x1={203.6} x2={222.2} y1={30858} y2={31048.6} shape={EllipseShape("#4350c8")} />
          <ReferenceArea x1={209.4} x2={214.4} y1={30873.6} y2={31000} shape={RectShape("#4350c8", 4)} />
          <ReferenceArea x1={677.4} x2={679.8} y1={29335} y2={29889.6} shape={RectShape("#880e1f", 3.5)} />
        </ComposedChart>
      </div>
      <div style={{ position: "absolute", left: 0, top: PLOT_BOTTOM, width: W, height: 3, background: "#e0e3eb" }} />
      {/* oscillator + time axis */}
      <div style={{ position: "absolute", left: 0, top: 1646 }}>
        <ComposedChart width={W} height={177} data={rsiTable} margin={noMargin}>
          <CartesianGrid stroke="#eff1f5" strokeWidth={1.5} />
          <XAxis dataKey="slot" type="number" domain={SLOTS} ticks={TIME_SLOTS} interval={0} height={39} tick={tickStyle} tickMargin={10} tickLine={false} axisLine={{ stroke: "#e0e3eb", strokeWidth: 2 }} tickFormatter={timeLabel} />
          <YAxis orientation="right" width={AXIS_W} domain={[0, 100]} ticks={RSI_TICKS} tick={tickStyle} tickMargin={9} tickFormatter={(v: number) => v.toFixed(2)} axisLine={false} tickLine={false} />
          <ReferenceLine y={70} stroke="#f23645" strokeWidth={1.5} />
          <ReferenceLine y={30} stroke="#2a6fd6" strokeWidth={1.5} />
          <Line dataKey="rsi" stroke="#131313" strokeWidth={1.5} dot={false} isAnimationActive={false} />
        </ComposedChart>
      </div>
      <div style={{ position: "absolute", left: 3595, top: PLOT_TOP, width: 1.5, height: 1756, background: "#e0e3eb" }} />

      {/* hand annotations */}
      <Txt x={460} y={769} size={39.5} color="#000" font={KR} spacing={1.5} word={9}>1시간봉 완성 된 시점.</Txt>
      <Txt x={632} y={829} size={39.5} color="#000" font={KR}>30680</Txt>
      <Txt x={1102} y={397} size={39.5} color="#4350c8" font={KR} spacing={1.5} word={6}>1시간봉 완성 시점<span style={{ marginLeft: -7 }}> 30970</span></Txt>
      <Txt x={1050} y={576} size={39.5} color="#4350c8" font={KR}>30870</Txt>
      <Txt x={2960} y={725} size={39.5} color="#880e1f" font={KR} spacing={1.5} word={6}>30680에서 터진 거래량</Txt>

      {/* axis price tags */}
      <Tag p={30992.4}>30992.4</Tag>
      <div style={{ position: "absolute", left: 3593, top: 611, width: 83, height: 48, background: GREEN, borderRadius: 3, color: "#fff", fontFamily: FONT, fontSize: 17.5, textAlign: "center", lineHeight: "22px", paddingTop: 2, boxSizing: "border-box" }}>30745.0<br /><span style={{ color: "#d7f0ec" }}>00:22</span></div>
      <Tag p={30246} bg="#fff" color={RED} border={RED}>30246.0</Tag>
      <Tag p={29569.5}>29569.5</Tag>

      {/* top toolbar */}
      <div style={{ position: "absolute", left: 0, top: 0, width: W, height: 61, background: "#fff", borderTop: "4px solid #e0e0e0", boxSizing: "border-box" }} />
      <div style={{ position: "absolute", left: 0, top: 61, width: W, height: 6, background: "#e0e3eb" }} />
      <Icon x={21} y={33} w={26} h={26}><circle cx="13" cy="13" r="9" strokeWidth="2.6" /><path d="M20 20l6 6" strokeWidth="2.6" /></Icon>
      <Txt x={38} y={33} size={20} weight={700}>BTCUSD</Txt>
      <Icon x={171} y={33}><circle cx="15" cy="15" r="13.5" /><path d="M15 8v14M8 15h14" /></Icon>
      <Sep x={206} />
      <Txt x={226} y={33} color="#2962ff">1분</Txt>
      <Txt x={276} y={33}>5분</Txt>
      <Txt x={327} y={33}>15분</Txt>
      <Txt x={387} y={33}>30분</Txt>
      <Txt x={449} y={33}>1시간</Txt>
      <Txt x={519} y={33}>4시간</Txt>
      <Txt x={594} y={33}>날</Txt>
      <Txt x={630} y={33}>주</Txt>
      <Icon x={677} y={33} w={18} h={18}><path d="M8 12l7 7 7-7" strokeWidth="2.4" /></Icon>
      <Sep x={698} />
      <Icon x={734} y={33}><path d="M9 4v22M21 4v22" /><rect x="5" y="9" width="8" height="12" fill="#fff" /><rect x="17" y="11" width="8" height="9" fill="#fff" /></Icon>
      <Sep x={769} />
      <Icon x={804} y={33}><path d="M4 15l7-7 4 3 9-9" /><path d="M3 28V19h6v9M11 28V15h6v13M19 28V17h6v11M2 28h26" /></Icon>
      <Txt x={829} y={33}>지표</Txt>
      <Icon x={916} y={33}><rect x="4" y="4" width="9" height="9" rx="3" /><rect x="17" y="4" width="9" height="9" rx="3" /><rect x="4" y="17" width="9" height="9" rx="3" /><rect x="17" y="17" width="9" height="9" rx="3" /></Icon>
      <Sep x={949} />
      <Icon x={984} y={33}><circle cx="15" cy="15" r="11" /><path d="M15 8v8l-5 3M3 7l5-4M27 7l-5-4M21 27h8M25 23v7" /></Icon>
      <Txt x={1010} y={33}>얼러트</Txt>
      <Icon x={1115} y={33}><path d="M13 6L6 15l7 9M23 6l-7 9 7 9" /></Icon>
      <Txt x={1140} y={33}>리플레이</Txt>
      <Sep x={1244} />
      <Icon x={1281} y={33}><path d="M10 8L5 13l5 5M5 13h12c4 0 6 3 6 8" /></Icon>
      <Icon x={1335} y={33}><g stroke="#b2b5be"><path d="M20 8l5 5-5 5M25 13H13c-4 0-6 3-6 8" /></g></Icon>

      <div style={{ position: "absolute", left: 3197, top: 20, width: 28, height: 24, border: "1.6px solid #131722", borderRadius: 4, boxSizing: "border-box" }} />
      <Txt x={3246} y={27} size={20}>코인중심3</Txt>
      <Txt x={3281} y={47} size={15} color="#2962ff">저장</Txt>
      <Icon x={3366} y={33} w={18} h={18}><path d="M8 12l7 7 7-7" strokeWidth="2.4" /></Icon>
      <Sep x={3388} />
      <Icon x={3423} y={33}><circle cx="13" cy="15" r="10" /><path d="M20 23l6 6" /><path d="M17 3l-6 12h6l-3 8" /></Icon>
      <Icon x={3481} y={33}><circle cx="15" cy="15" r="4.5" /><circle cx="15" cy="15" r="10" strokeDasharray="5 2.8" strokeWidth="3.5" /></Icon>
      <Icon x={3538} y={33}><path d="M10 4H5v5M20 4h5v5M10 26H5v-5M20 26h5v-5" /></Icon>
      <Icon x={3595} y={33}><rect x="3" y="8" width="24" height="18" rx="3" /><circle cx="15" cy="17" r="5.5" /><path d="M10 8l2-4h6l2 4" /></Icon>
      <div style={{ position: "absolute", left: 3631, top: 12, width: 70, height: 42, borderRadius: 21, background: "#2962ff" }} />
      <Txt x={3649} y={33} size={20} color="#fff">퍼블</Txt>

      {/* legend row */}
      <div style={{ position: "absolute", left: 14, top: 76, width: 942, height: 28, background: "rgba(255,255,255,0.55)" }} />
      <svg style={{ position: "absolute", left: 13, top: 78 }} width={26} height={26}><circle cx="13" cy="13" r="13" fill="#f7931a" /><text x="13" y="19" textAnchor="middle" fontSize="16" fontWeight="700" fill="#fff" fontFamily="Roboto">₿</text></svg>
      <Txt x={47} y={91} size={22} spacing={1.6}>비트코인 / 달러 · 1 · BITFINEX</Txt>
      <svg style={{ position: "absolute", left: 382, top: 77 }} width={28} height={28}><circle cx="14" cy="14" r="13" fill="#e3f3f0" /><circle cx="14" cy="14" r="6" fill="#089981" /></svg>
      <Txt x={434} y={92} size={18.7}>시</Txt><Txt x={456} y={92} size={18.7} color="#089981">30745.0</Txt>
      <Txt x={533} y={92} size={18.7}>고</Txt><Txt x={553} y={92} size={18.7} color="#089981">30745.0</Txt>
      <Txt x={632} y={92} size={18.7}>저</Txt><Txt x={652.5} y={92} size={18.7} color="#089981">30745.0</Txt>
      <Txt x={730} y={92} size={18.7}>종</Txt><Txt x={750} y={92} size={18.7} color="#089981">30745.0</Txt>
      <Txt x={829} y={92} size={18.7} color="#089981">−1.0 (−0.00%)</Txt>
      <div style={{ position: "absolute", left: 14, top: 113, width: 44, height: 30, border: "1.5px solid #e0e3eb", borderRadius: 4, boxSizing: "border-box", background: "#fff" }} />
      <Icon x={26} y={128} w={14} h={14}><path d="M7 11l8 8 8-8" strokeWidth="3" /></Icon>
      <Txt x={40} y={128} size={17}>5</Txt>
      <div style={{ position: "absolute", left: 3601, top: 73, width: 77, height: 36, border: "1.5px solid #e0e3eb", borderRadius: 5, boxSizing: "border-box" }} />
      <Txt x={3606} y={92} size={17.5}>USD</Txt>
      <Icon x={3666} y={91} w={14} h={14}><path d="M7 11l8 8 8-8" strokeWidth="3" /></Icon>

      {/* oscillator chrome */}
      <div style={{ position: "absolute", left: 14, top: 1654, width: 44, height: 30, border: "1.5px solid #e0e3eb", borderRadius: 4, boxSizing: "border-box", background: "#fff" }} />
      <Icon x={26} y={1669} w={14} h={14}><path d="M7 11l8 8 8-8" strokeWidth="3" /></Icon>
      <Txt x={40} y={1669} size={17}>1</Txt>
      <svg style={{ position: "absolute", left: 17, top: 1742 }} width={46} height={23} viewBox="0 0 46 23" fill="#131722"><path d="M0 0h19v23H10V9H0zM22 0a4.5 4.5 0 1 0 0.01 0zM36 0h10L36 23H26z" /></svg>
      <div style={{ position: "absolute", left: 3532, top: 1740, width: 36, height: 36, background: "#fff", borderRadius: 5, boxShadow: "0 1px 4px rgba(0,0,0,.18)" }} />
      <Icon x={3550} y={1758} w={22} h={22}><path d="M5 6l9 9-9 9M15 6l9 9-9 9" strokeWidth="3" /></Icon>
      <Icon x={3637} y={1806} w={30} h={20}><path d="M8 3h14l7 12-7 12H8L1 15z" strokeWidth="2" /><circle cx="15" cy="15" r="4" strokeWidth="2" /></Icon>
    </div>
  );
}
